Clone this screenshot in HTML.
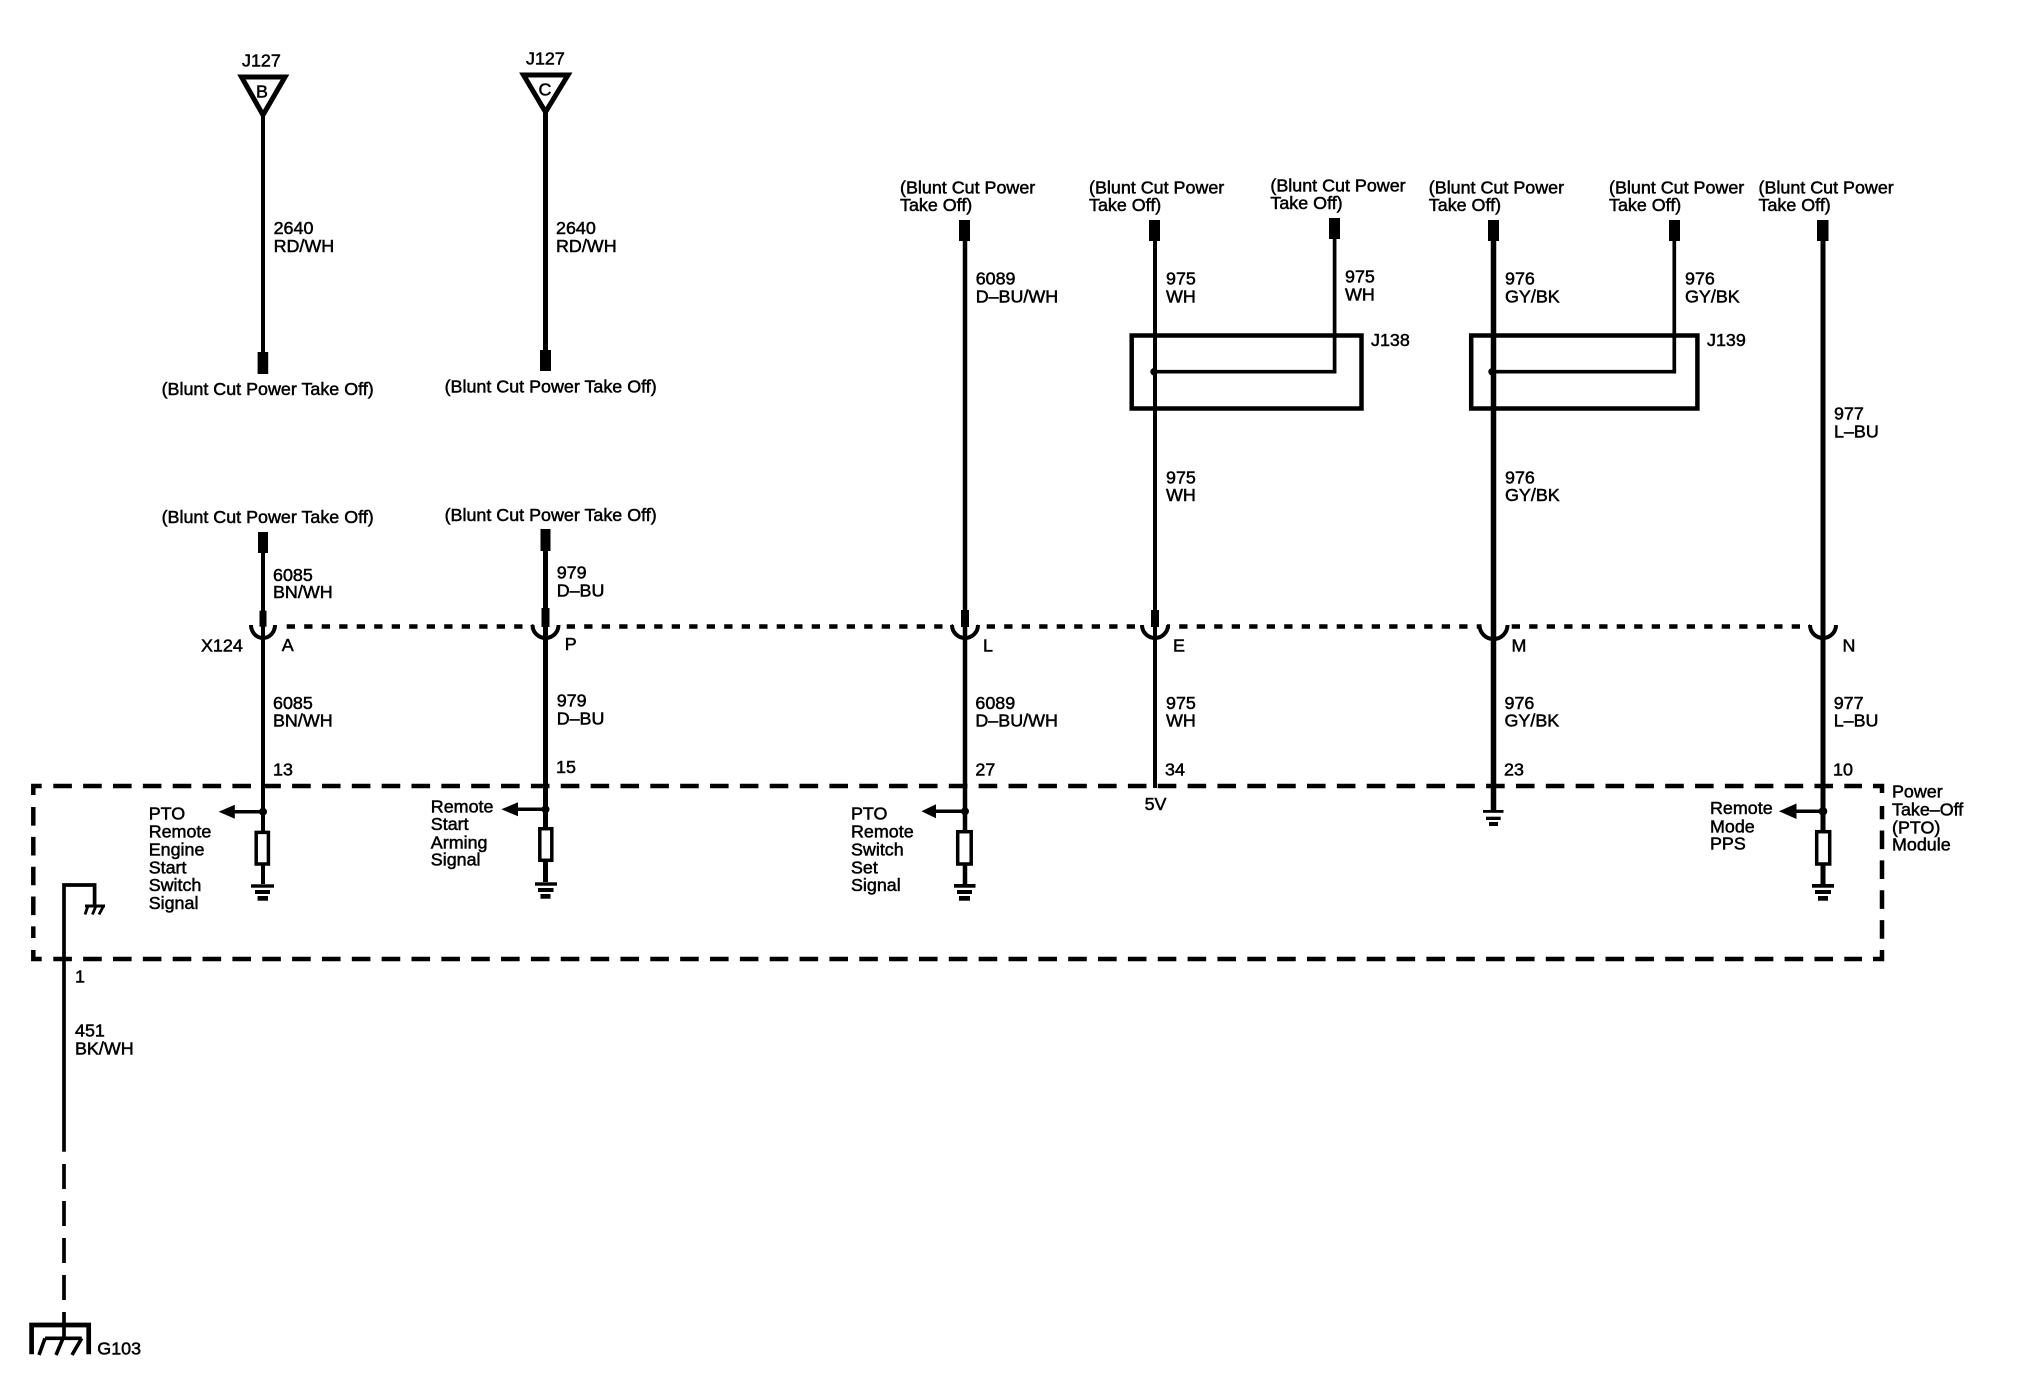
<!DOCTYPE html>
<html><head><meta charset="utf-8"><style>
html,body{margin:0;padding:0;background:#fff}
svg{display:block}
text{font-family:"Liberation Sans",Arial,sans-serif;font-size:17.9px;fill:#000;stroke:#000;stroke-width:.5px}
.w{stroke:#000;fill:none}
.b{fill:#000;stroke:none}
</style></head><body>
<svg width="2028" height="1392" viewBox="0 0 2028 1392" xmlns="http://www.w3.org/2000/svg">
<rect width="2028" height="1392" fill="#fff"/>

<!-- module box -->
<g class="w" stroke-width="4.5">
<path d="M41.7,786H33.3V795" fill="none"/>
<path d="M53.3,786H1862" stroke-dasharray="18.6 11.25"/>
<path d="M1873,786H1882V793"/>
<path d="M1882,938.7V806" stroke-dasharray="18.6 11.25"/>
<path d="M1873,959H1882V950"/>
<path d="M53.3,959H1862" stroke-dasharray="18.6 11.25"/>
<path d="M41.7,959H33.3V950"/>
<path d="M33.3,807V938" stroke-dasharray="18.6 11.25"/>
<!-- connector row -->
<path d="M286.7,626.5H1810" stroke-dasharray="8.3 9.2"/>
</g>
<rect x="533.5" y="622" width="24" height="9" fill="#fff"/>
<rect x="953" y="622" width="24" height="9" fill="#fff"/>
<rect x="1143" y="622" width="24" height="9" fill="#fff"/>
<rect x="1481.5" y="622" width="24" height="9" fill="#fff"/>

<!-- top left wires -->
<path class="w" stroke-width="4" d="M263,115V352"/>
<rect class="b" x="257.6" y="352" width="10.6" height="22"/>
<path class="w" stroke-width="5" style="fill:#fff" d="M241.5,77H285L263,115Z"/>
<text x="242" y="66.7">J127</text>
<text x="256" y="97.7">B</text>
<text x="273.6" y="234">2640</text>
<text x="273.6" y="252">RD/WH</text>
<text x="161.6" y="395">(Blunt Cut Power Take Off)</text>

<path class="w" stroke-width="5" d="M545.5,112V350"/>
<rect class="b" x="540" y="350" width="11" height="21"/>
<path class="w" stroke-width="5" style="fill:#fff" d="M523.5,75H568L545.5,112Z"/>
<text x="526" y="64.3">J127</text>
<text x="538.5" y="95.7">C</text>
<text x="556" y="234">2640</text>
<text x="556" y="252">RD/WH</text>
<text x="444.6" y="392.7">(Blunt Cut Power Take Off)</text>

<!-- wire A -->
<text x="161.6" y="523">(Blunt Cut Power Take Off)</text>
<rect class="b" x="258" y="532" width="10" height="21"/>
<path class="w" stroke-width="4" d="M263,552V884"/>
<rect class="b" x="259.5" y="610.7" width="7" height="16"/>
<path class="w" stroke-width="4" d="M251,625A12,13 0 0 0 275,625"/>
<text x="273" y="581">6085</text>
<text x="273" y="598">BN/WH</text>
<text x="201" y="651.7">X124</text>
<text x="281.7" y="651">A</text>
<text x="273" y="709">6085</text>
<text x="273" y="726.7">BN/WH</text>
<text x="273" y="775.7">13</text>
<circle class="b" cx="263" cy="811.7" r="4"/>
<path class="w" stroke-width="3.5" d="M232,811.7H263"/>
<path class="b" d="M218.7,811.7L234.8,804.7V818.7Z"/>
<rect class="w" style="fill:#fff" stroke-width="3.5" x="256.2" y="832.4" width="12.2" height="31.6"/>
<rect class="b" x="251" y="884.3" width="23" height="3.4"/>
<rect class="b" x="255" y="890" width="15" height="4"/>
<rect class="b" x="257.6" y="896" width="10.4" height="4.7"/>
<text x="148.7" y="819.3">PTO</text>
<text x="148.7" y="837.7">Remote</text>
<text x="148.7" y="855.7">Engine</text>
<text x="148.7" y="873.3">Start</text>
<text x="148.7" y="891">Switch</text>
<text x="148.7" y="909">Signal</text>

<!-- wire P -->
<text x="444.6" y="521">(Blunt Cut Power Take Off)</text>
<rect class="b" x="540.5" y="529" width="10" height="22"/>
<path class="w" stroke-width="5" d="M545.5,550V882"/>
<rect class="b" x="541.5" y="608" width="8" height="19"/>
<path class="w" stroke-width="4" d="M532.5,625A13,13 0 0 0 558.5,625"/>
<text x="556.7" y="578.7">979</text>
<text x="556.7" y="596.7">D–BU</text>
<text x="564.7" y="650">P</text>
<text x="556.7" y="706.7">979</text>
<text x="556.7" y="724.7">D–BU</text>
<text x="556" y="773">15</text>
<circle class="b" cx="545.5" cy="809.3" r="4"/>
<path class="w" stroke-width="3.5" d="M515,809.3H545.5"/>
<path class="b" d="M501.3,809.3L518,802.3V816.3Z"/>
<rect class="w" style="fill:#fff" stroke-width="3.5" x="539.8" y="828.7" width="12" height="31.6"/>
<rect class="b" x="535" y="882.3" width="22" height="3.4"/>
<rect class="b" x="538" y="888" width="15.5" height="4"/>
<rect class="b" x="540.5" y="894" width="10" height="4.7"/>
<text x="430.8" y="812.3">Remote</text>
<text x="430.8" y="830">Start</text>
<text x="430.8" y="848.3">Arming</text>
<text x="430.8" y="865.7">Signal</text>

<!-- wire L -->
<text x="900" y="193.3">(Blunt Cut Power</text>
<text x="900" y="211">Take Off)</text>
<rect class="b" x="959" y="220" width="11" height="21"/>
<path class="w" stroke-width="4.5" d="M965,240V884"/>
<rect class="b" x="961" y="610" width="8" height="17"/>
<path class="w" stroke-width="4" d="M952,625A13,13 0 0 0 978,625"/>
<text x="975.7" y="284.3">6089</text>
<text x="975.7" y="302.3">D–BU/WH</text>
<text x="983" y="651.7">L</text>
<text x="975.4" y="709">6089</text>
<text x="975.4" y="726.7">D–BU/WH</text>
<text x="975.4" y="775.7">27</text>
<circle class="b" cx="965" cy="811.3" r="4"/>
<path class="w" stroke-width="3.5" d="M934,811.3H965"/>
<path class="b" d="M921.4,811.3L936,804.3V818.3Z"/>
<rect class="w" style="fill:#fff" stroke-width="3.5" x="957.7" y="831.7" width="13.5" height="32.3"/>
<rect class="b" x="954" y="884" width="21.5" height="3.7"/>
<rect class="b" x="957" y="890" width="15" height="4"/>
<rect class="b" x="959" y="896" width="11" height="4.7"/>
<text x="851" y="819.3">PTO</text>
<text x="851" y="837.3">Remote</text>
<text x="851" y="855.7">Switch</text>
<text x="851" y="873.3">Set</text>
<text x="851" y="891">Signal</text>

<!-- wire E and branch J138 -->
<text x="1089" y="193.3">(Blunt Cut Power</text>
<text x="1089" y="211">Take Off)</text>
<rect class="b" x="1149" y="220" width="11" height="21"/>
<rect class="w" stroke-width="4.5" x="1131.7" y="335.5" width="229.8" height="73"/>
<path class="w" stroke-width="4" d="M1155,240V788"/>
<rect class="b" x="1151" y="610" width="8" height="17"/>
<path class="w" stroke-width="4" d="M1142,625A13,13 0 0 0 1168,625"/>
<text x="1270.4" y="191.5">(Blunt Cut Power</text>
<text x="1270.4" y="209">Take Off)</text>
<rect class="b" x="1329" y="218" width="11" height="21"/>
<path class="w" stroke-width="3.7" d="M1334.6,238V371.7H1154"/>
<circle class="b" cx="1154" cy="371.7" r="3.7"/>
<text x="1166" y="284.3">975</text>
<text x="1166" y="302.3">WH</text>
<text x="1345" y="282.5">975</text>
<text x="1345" y="300.5">WH</text>
<text x="1371" y="346">J138</text>
<text x="1166" y="483.3">975</text>
<text x="1166" y="501">WH</text>
<text x="1173" y="651.7">E</text>
<text x="1166" y="709">975</text>
<text x="1166" y="726.7">WH</text>
<text x="1165" y="775.7">34</text>
<text x="1144.6" y="810">5V</text>

<!-- wire M and branch J139 -->
<text x="1428.8" y="193.3">(Blunt Cut Power</text>
<text x="1428.8" y="211">Take Off)</text>
<rect class="b" x="1488" y="220" width="11" height="21"/>
<rect class="w" stroke-width="4.5" x="1471.2" y="335.5" width="226.2" height="73"/>
<path class="w" stroke-width="5.5" d="M1493.5,240V811"/>
<path class="w" stroke-width="4" d="M1479.5,625A14,14 0 0 0 1507.5,625"/>
<text x="1609" y="193.3">(Blunt Cut Power</text>
<text x="1609" y="211">Take Off)</text>
<rect class="b" x="1669" y="220" width="11" height="21"/>
<path class="w" stroke-width="3.7" d="M1674.3,240V371.7H1492"/>
<circle class="b" cx="1492" cy="371.7" r="3.7"/>
<text x="1505" y="284.3">976</text>
<text x="1505" y="302.3">GY/BK</text>
<text x="1685" y="284.3">976</text>
<text x="1685" y="302.3">GY/BK</text>
<text x="1707" y="346">J139</text>
<text x="1505" y="483.3">976</text>
<text x="1505" y="501">GY/BK</text>
<text x="1511.5" y="651.7">M</text>
<text x="1504.5" y="709">976</text>
<text x="1504.5" y="726.7">GY/BK</text>
<text x="1504" y="775.7">23</text>
<rect class="b" x="1483" y="810" width="20.5" height="2.8"/>
<rect class="b" x="1486" y="816.7" width="14.7" height="3.3"/>
<rect class="b" x="1489" y="822" width="9" height="4"/>

<!-- wire N -->
<text x="1758.5" y="193.3">(Blunt Cut Power</text>
<text x="1758.5" y="211">Take Off)</text>
<rect class="b" x="1817" y="220" width="11.5" height="21"/>
<path class="w" stroke-width="5" d="M1823,240V884"/>
<path class="w" stroke-width="4" d="M1810,625A13,13 0 0 0 1836,625"/>
<text x="1834" y="419.3">977</text>
<text x="1834" y="437.3">L–BU</text>
<text x="1842.5" y="651.7">N</text>
<text x="1833.7" y="709">977</text>
<text x="1833.7" y="726.7">L–BU</text>
<text x="1833" y="775.7">10</text>
<circle class="b" cx="1823" cy="811.3" r="4.3"/>
<path class="w" stroke-width="3.5" d="M1794,811.3H1823"/>
<path class="b" d="M1779,811.3L1796.5,803.5V819Z"/>
<rect class="w" style="fill:#fff" stroke-width="3.5" x="1816.7" y="831.7" width="13" height="32.3"/>
<rect class="b" x="1812" y="884" width="22" height="3.7"/>
<rect class="b" x="1815" y="890" width="16" height="4"/>
<rect class="b" x="1818" y="896" width="10" height="4.7"/>
<text x="1710" y="814">Remote</text>
<text x="1710" y="832.3">Mode</text>
<text x="1710" y="849.7">PPS</text>
<text x="1892" y="797.7">Power</text>
<text x="1892" y="815.7">Take–Off</text>
<text x="1892" y="833.3">(PTO)</text>
<text x="1892" y="850.7">Module</text>

<!-- left ground -->
<path class="w" stroke-width="3.7" d="M64,1151.7V885H94.6V905"/>
<path class="w" stroke-width="3" d="M85,906H105"/>
<path class="w" stroke-width="2.8" d="M88,906L85,914.5M96,906L92.4,914.5M103.5,906L99,914.5"/>
<path class="w" stroke-width="3.7" d="M64,1164V1300.7" stroke-dasharray="25 12"/>
<path class="w" stroke-width="3.7" d="M64,1312V1338"/>
<path class="w" stroke-width="4.7" d="M31.6,1354.3V1325H88.7V1354.3"/>
<path class="w" stroke-width="3.6" d="M45,1338.3H81.7M45,1338.3L39,1355M63,1338.3L56,1355M81.7,1338.3L72,1355"/>
<text x="75" y="982.3">1</text>
<text x="75" y="1036.7">451</text>
<text x="75" y="1054.7">BK/WH</text>
<text x="97.3" y="1354.3">G103</text>
</svg>
</body></html>
